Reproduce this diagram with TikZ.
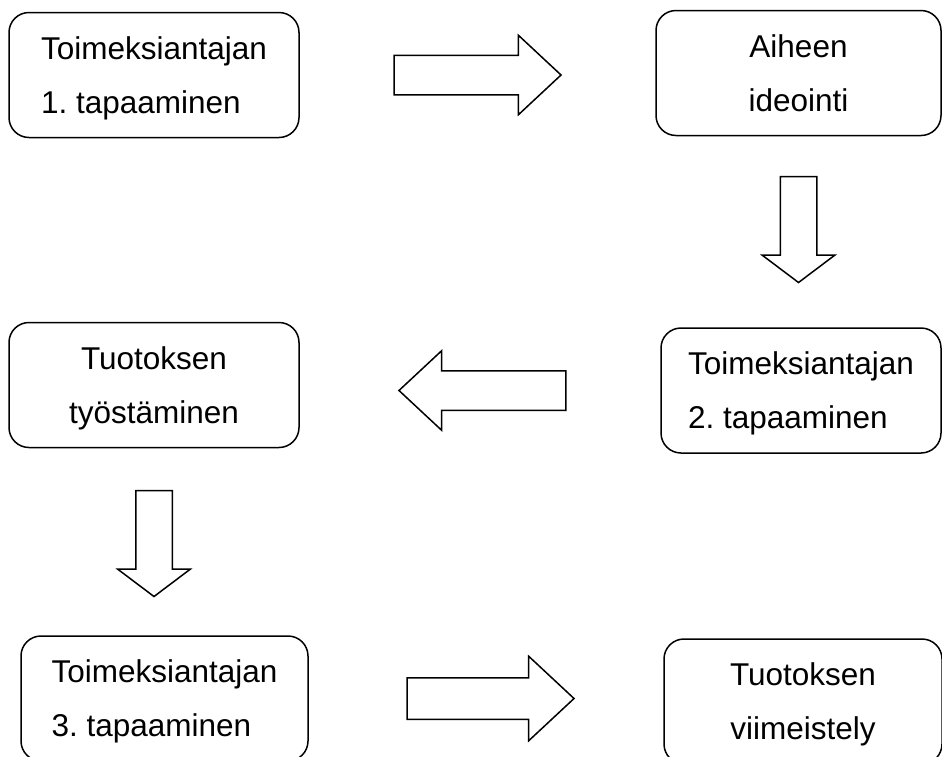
\documentclass[tikz,border=0pt]{standalone}
\usepackage{fontspec}
\setmainfont{Liberation Sans}
\usetikzlibrary{positioning, shapes.arrows}

\begin{document}
\frenchspacing
\begin{tikzpicture}[
  x=1pt, y=-1pt,
  box/.style = {draw, line width=1.5pt, rounded corners=20pt, outer sep=0pt,
                inner sep=0pt, text depth=0pt, minimum height=125pt,
                font=\fontsize{31.5}{54}\selectfont},
  blkarr/.style = {draw, single arrow, line width=1.5pt, outer sep=0pt,
                   single arrow head indent=0pt},
  harr/.style = {blkarr, inner sep=19pt, minimum height=167pt,
                 single arrow head extend=20pt, single arrow tip angle=86},
  varr/.style = {blkarr, shape border rotate=270, inner sep=17.5pt,
                 minimum height=106pt, single arrow head extend=18pt,
                 single arrow tip angle=106}
]
\useasboundingbox (0,0) rectangle (942,756);
\node[box, minimum width=290pt, align=left] (tap1) at (154,75) {Toimeksiantajan\\1. tapaaminen};
\node[box, minimum width=285pt, align=center] (idea) at (798.5,73) {Aiheen\\ideointi};
\node[box, minimum width=280pt, align=left] (tap2) at (801,390.5) {Toimeksiantajan\\2. tapaaminen};
\node[box, minimum width=290pt, align=center] (tyo) at (154,385) {Tuotoksen\\työstäminen};
\node[box, minimum width=287pt, align=left] (tap3) at (164.5,698.5) {Toimeksiantajan\\3. tapaaminen};
\node[box, minimum width=278pt, align=center] (viim) at (803,701.5) {Tuotoksen\\viimeistely};
\node[harr, right=95pt of tap1] (a1) {};
\node[varr, below=41pt of idea] (a2) {};
\node[harr, shape border rotate=180, left=95pt of tap2] (a3) {};
\node[varr, below=43pt of tyo] (a4) {};
\node[harr, inner sep=20pt, single arrow head extend=21.5pt, right=99pt of tap3] (a5) {};
\end{tikzpicture}
\end{document}
